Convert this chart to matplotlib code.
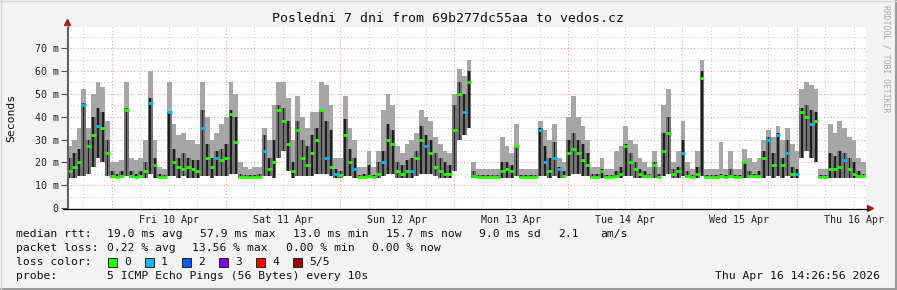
import numpy as np
import matplotlib
matplotlib.use('Agg')
import matplotlib.pyplot as plt
from matplotlib.patches import Rectangle
from matplotlib.lines import Line2D

# hourly smoke data (ms), 168 hours ending Thu Apr 16 14:26
ping_hi = [27, 30, 35, 52, 35, 50, 55, 53, 38, 20, 20, 21, 55, 22, 21, 22, 30, 60, 30, 18, 17, 55, 37, 32, 33, 30, 30, 28,
           55, 40, 30, 33, 37, 40, 55, 50, 20, 18, 17, 18, 18, 35, 30, 45, 55, 55, 48, 30, 49, 40, 35, 42, 42, 55, 54, 45,
           22, 22, 49, 35, 30, 18, 18, 25, 18, 25, 43, 50, 45, 27, 24, 28, 30, 33, 43, 40, 38, 31, 28, 25, 24, 50, 61, 58,
           65, 20, 17, 17, 17, 17, 17, 31, 27, 24, 37, 17, 17, 17, 17, 38, 34, 30, 37, 22, 20, 40, 49, 40, 36, 30, 18, 18,
           22, 17, 17, 25, 27, 36, 30, 28, 22, 20, 18, 25, 18, 45, 52, 20, 25, 38, 20, 17, 25, 65, 17, 17, 17, 29, 17, 25,
           17, 17, 26, 22, 20, 22, 30, 34, 31, 36, 30, 35, 28, 25, 52, 55, 54, 52, 17, 17, 37, 33, 38, 35, 31, 30, 22, 20]
ping_q = [22, 24, 26, 46, 30, 40, 44, 42, 30, 16, 15, 16, 44, 16, 15, 16, 20, 48, 22, 15, 14.5, 42, 26, 22, 24, 22, 21, 21,
          43, 28, 22, 25, 26, 28, 43, 40, 15, 14.5, 14.5, 14.5, 15, 32, 22, 30, 45, 44, 38, 20, 38, 30, 27, 32, 35, 43, 38, 34,
          17, 16, 39, 26, 22, 14.5, 15, 19, 14.5, 20, 25, 37, 34, 20, 19, 21, 22, 25, 36, 32, 30, 24, 22, 20, 19, 45, 55, 50,
          60, 16, 14.5, 14.5, 14.5, 14.5, 14.5, 20, 20, 19, 27, 14.5, 14.5, 14.5, 14.5, 35, 27, 22, 29, 18, 16, 30, 33, 30, 28, 24, 15, 15,
          17, 14.5, 14.5, 16, 18, 28, 24, 20, 17, 16, 15, 20, 15, 33, 40, 17, 18, 30, 16, 14.5, 18, 60, 14.5, 14.5, 14.5, 15, 14.5, 17,
          14.5, 14.5, 20, 16, 15, 16, 25, 31, 24, 33, 22, 30, 18, 17, 44, 45, 43, 42, 14.5, 14.5, 24, 23, 25, 24, 22, 20, 16, 15]
median = [16, 18, 20, 45, 27, 32, 36, 35, 24, 14, 13.5, 14, 43, 14, 13.5, 14, 16, 46, 19, 13.5, 13.5, 42, 20, 18, 17, 18, 17, 16,
          35, 22, 18, 22, 21, 22, 41, 29, 13.5, 13.5, 13.5, 13.5, 13.5, 25, 17, 20, 43, 38, 28, 16, 34, 22, 19, 24, 30, 43, 22, 18,
          15, 14.5, 32, 20, 17, 13.5, 13.5, 14, 13.5, 15, 20, 30, 28, 16, 15, 16, 16, 22, 30, 27, 24, 18, 16, 15, 15, 34, 50, 42,
          55, 14, 13.5, 13.5, 13.5, 13.5, 13.5, 16, 17, 16, 27, 13.5, 13.5, 13.5, 13.5, 34, 20, 16, 22, 17, 14, 24, 26, 24, 21, 19, 13.5, 13.5,
          16, 13.5, 13.5, 14, 15, 27, 20, 17, 15, 14, 14, 19, 13.5, 25, 33, 15, 16, 24, 14, 13.5, 15, 57, 13.5, 13.5, 13.5, 14, 13.5, 14,
          13.5, 13.5, 20, 14, 14, 14, 22, 30, 19, 32, 19, 24, 15, 15, 42, 40, 37, 38, 13.5, 13.5, 17, 17, 18, 21, 17, 15, 14, 14]
ping_lo = [13, 13, 14, 14, 15, 18, 22, 20, 14, 13, 13, 13, 14, 13, 13, 13, 13, 15, 13, 13, 13, 14, 14, 13, 14, 13, 13, 13,
           14, 14, 13, 14, 14, 14, 15, 15, 13, 13, 13, 13, 13, 14, 14, 13, 22, 25, 16, 13, 14, 14, 14, 14, 15, 15, 15, 14,
           13, 13, 14, 14, 13, 13, 13, 13, 13, 13, 14, 15, 15, 13, 13, 13, 13, 14, 15, 15, 15, 14, 13, 13, 13, 16, 30, 32,
           35, 13, 13, 13, 13, 13, 13, 13, 13, 13, 14, 13, 13, 13, 13, 14, 14, 13, 14, 13, 13, 14, 15, 15, 14, 14, 13, 13,
           13, 13, 13, 13, 13, 14, 14, 13, 13, 13, 13, 13, 13, 14, 15, 13, 13, 14, 13, 13, 13, 14, 13, 13, 13, 13, 13, 13,
           13, 13, 13, 13, 13, 13, 13, 14, 13, 14, 13, 14, 13, 13, 22, 25, 22, 20, 13, 13, 13, 13, 13, 13, 13, 13, 13, 13]
# hours whose median had 1 lost ping
loss_one = [3, 6, 17, 21, 28, 31, 41, 54, 56, 60, 66, 72, 75, 83, 99, 100, 102, 103, 129, 147, 149, 151, 153, 156, 163]

day_labels = ['Fri 10 Apr', 'Sat 11 Apr', 'Sun 12 Apr', 'Mon 13 Apr', 'Tue 14 Apr', 'Wed 15 Apr', 'Thu 16 Apr']
first_midnight = 9.4  # hours after graph start

loss_colors = ['#26ff00', '#00b8ff', '#0059ff', '#7e00ff', '#ff0000', '#a10000']
loss_names = ['0', '1', '2', '3', '4', '5/5']

W, H = 897, 290
plt.rcParams['font.family'] = 'DejaVu Sans Mono'

fig = plt.figure(figsize=(W / 100, H / 100), dpi=100, facecolor='#f3f3f3')
L, R, T, B = 67, 866, 27, 208
ax = fig.add_axes([L / W, 1 - B / H, (R - L) / W, (B - T) / H])
ax.set_facecolor('white')

n = len(median)
edges = np.arange(n + 1)
def stepv(v):
    v = list(v)
    return np.array(v + [v[-1]])

lo = np.array(ping_lo, float)
q = np.array(ping_q, float)
# outer smoke, middle smoke, and thin dark streaks
ax.fill_between(edges, stepv(ping_lo), stepv(ping_hi), step='post', color='#a6a6a6', lw=0, zorder=2)
ax.fill_between(edges, stepv(ping_lo), stepv(ping_q), step='post', color='#727272', lw=0, zorder=3)
ax.bar(edges[:-1] + 0.5, q - lo, bottom=lo, width=0.35, color='#1e1e1e', lw=0, zorder=3.5)
cols = [loss_colors[1] if i in loss_one else loss_colors[0] for i in range(n)]
ax.hlines(median, edges[:-1], edges[1:], colors=cols, lw=2.0, zorder=4)

ax.set_xlim(0, n)
ax.set_ylim(0, 79.3)

# grid
minor_x = [first_midnight - 6 + 6 * k for k in range(29) if first_midnight - 6 + 6 * k < n]
for x in minor_x:
    if (x - first_midnight) % 24 != 0:
        ax.axvline(x, color='#cfcfcf', lw=0.8, ls=(0, (1, 2)), zorder=1)
for k in range(7):
    ax.axvline(first_midnight + 24 * k, color='#f0a0a0', lw=0.8, ls=(0, (1, 2)), zorder=1)
for y in range(5, 80, 10):
    ax.axhline(y, color='#cfcfcf', lw=0.8, ls=(0, (1, 2)), zorder=1)
for y in range(10, 80, 10):
    ax.axhline(y, color='#f0a0a0', lw=0.8, ls=(0, (1, 2)), zorder=1)

ax.set_yticks(range(0, 80, 10))
ax.set_yticklabels(['0'] + ['%d m' % v for v in range(10, 80, 10)])
ax.set_xticks([first_midnight + 12 + 24 * k for k in range(7)])
ax.set_xticklabels(day_labels)
ax.tick_params(axis='y', length=4, width=0.8, color='#505050', labelsize=7.2, pad=2, labelcolor='#222222')
ax.tick_params(axis='x', length=0, labelsize=7.2, pad=5, labelcolor='#222222')
for s in ['top', 'right', 'bottom']:
    ax.spines[s].set_visible(False)
ax.spines['left'].set_color('#606060')
ax.spines['left'].set_linewidth(0.8)

# axis lines with arrows
def fx(x):
    return x / W
def fy(y):
    return 1 - y / H
fig.add_artist(Line2D([fx(63), fx(868)], [fy(208.5), fy(208.5)], color='black', lw=0.9))
fig.add_artist(Line2D([fx(67.5), fx(67.5)], [fy(208), fy(24)], color='#606060', lw=0.8))
ax.plot([1.0055], [0], marker='>', ms=4, color='#a02020', transform=ax.transAxes, clip_on=False)
ax.plot([0], [1.027], marker='^', ms=4, color='#a02020', transform=ax.transAxes, clip_on=False)

# texts
fig.text(fx(448), fy(19), 'Posledni 7 dni from 69b277dc55aa to vedos.cz', ha='center', va='center',
         fontsize=9.5, color='#111111')
fig.text(fx(11), fy(118), 'Seconds', rotation=90, ha='center', va='center', fontsize=8.2, color='#111111')
fig.text(fx(886), fy(5), 'RRDTOOL / TOBI OETIKER', rotation=270, ha='center', va='top', fontsize=5.9,
         color='#a8a8a8')

fs = 8.2
rows = [
    (234, [(16, 'median rtt:'), (107, '19.0 ms avg'), (200, '57.9 ms max'), (293, '13.0 ms min'),
           (386, '15.7 ms now'), (479, '9.0 ms sd'), (558, '2.1'), (600, 'am/s')]),
    (248, [(16, 'packet loss:'), (107, '0.22 % avg'), (192, '13.56 % max'), (286, '0.00 % min'),
           (372, '0.00 % now')]),
    (276, [(16, 'probe:'), (107, '5 ICMP Echo Pings (56 Bytes) every 10s')]),
]
for y, items in rows:
    for x, s in items:
        fig.text(fx(x), fy(y), s, ha='left', va='center', fontsize=fs, color='#111111')
fig.text(fx(16), fy(262), 'loss color:', ha='left', va='center', fontsize=fs, color='#111111')
box_x = [108, 145, 182, 219, 256, 293]
for bx, c, name in zip(box_x, loss_colors, loss_names):
    fig.add_artist(Rectangle((fx(bx), fy(267)), 9 / W, 9 / H, facecolor=c, edgecolor='#222222', lw=0.7,
                             transform=fig.transFigure))
    fig.text(fx(bx + 16), fy(262), name, ha='left', va='center', fontsize=fs, color='#111111')
fig.text(fx(880), fy(276), 'Thu Apr 16 14:26:56 2026', ha='right', va='center', fontsize=fs, color='#111111')

# frame
fig.add_artist(Line2D([0, 1], [fy(289), fy(289)], color='#9a9a9a', lw=1.5))
fig.add_artist(Line2D([fx(896), fx(896)], [0, 1], color='#9a9a9a', lw=1.5))
fig.add_artist(Line2D([0, 1], [fy(0.5), fy(0.5)], color='#d8d8d8', lw=1.0))
fig.add_artist(Line2D([fx(0.5), fx(0.5)], [0, 1], color='#d8d8d8', lw=1.0))

fig.savefig('out.png', dpi=100, facecolor=fig.get_facecolor())
